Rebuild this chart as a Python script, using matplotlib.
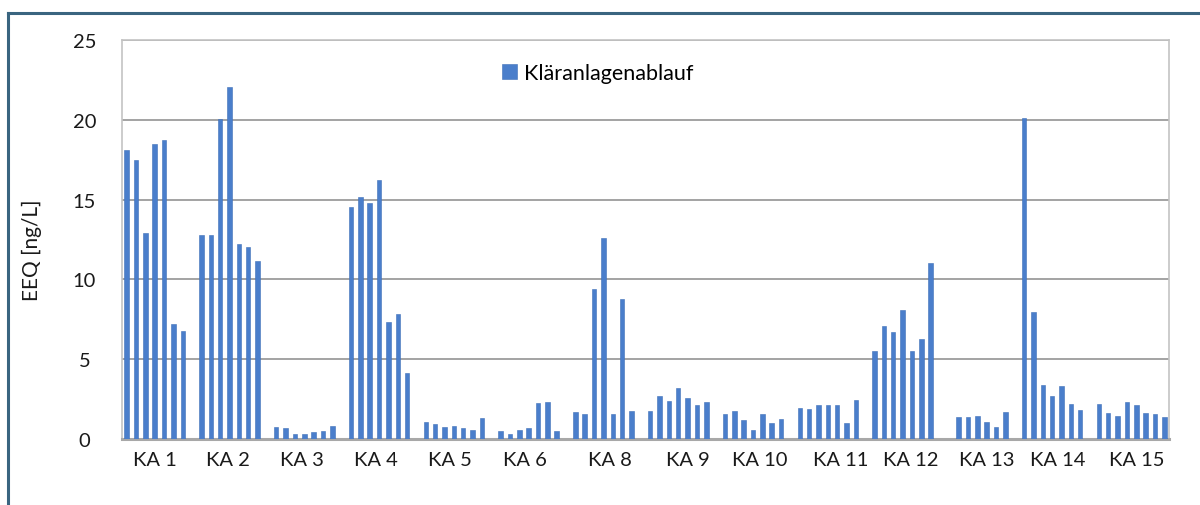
import numpy as np
import matplotlib
matplotlib.use("Agg")
import matplotlib.pyplot as plt
from matplotlib.lines import Line2D

# ---- data ----
groups = ["KA 1", "KA 2", "KA 3", "KA 4", "KA 5", "KA 6", "KA 8",
          "KA 9", "KA 10", "KA 11", "KA 12", "KA 13", "KA 14", "KA 15"]
ka1 = [18.1, 17.5, 12.9, 18.5, 18.75, 7.23, 6.77]
ka2 = [12.77, 12.77, 20.06, 22.06, 12.19, 12.02, 11.14]
ka3 = [0.73, 0.67, 0.31, 0.31, 0.42, 0.52, 0.83]
ka4 = [14.56, 15.17, 14.77, 16.21, 7.33, 7.85, 4.13]
ka5 = [1.08, 0.94, 0.75, 0.79, 0.69, 0.54, 1.33]
ka6 = [0.50, 0.33, 0.56, 0.69, 2.27, 2.31, 0.52]
ka8 = [1.71, 1.58, 9.38, 12.60, 1.56, 8.79, 1.75]
ka9 = [1.75, 2.71, 2.38, 3.19, 2.58, 2.13, 2.29]
ka10 = [1.56, 1.73, 1.21, 0.56, 1.54, 1.00, 1.25]
ka11 = [1.94, 1.88, 2.13, 2.13, 2.13, 1.00, 2.44]
ka12 = [5.52, 7.08, 6.73, 8.08, 5.52, 6.27, 11.04]
ka13 = [np.nan, 1.35, 1.40, 1.46, 1.04, 0.77, 1.67]
ka14 = [20.10, 7.98, 3.38, 2.69, 3.31, 2.21, 1.81]
ka15 = [2.21, 1.63, 1.46, 2.29, 2.10, 1.65, 1.56, 1.40]
series_name = "Kläranlagenablauf"
y_label = "EEQ [ng/L]"
y_ticks = [0, 5, 10, 15, 20, 25]

group_values = [ka1, ka2, ka3, ka4, ka5, ka6, ka8, ka9, ka10, ka11,
                ka12, ka13, ka14, ka15]

# ---- layout ----
slots_per_group = 8
label_offsets = [3.0, 2.8, 2.75, 2.7, 2.55, 2.65, 3.65, 4.0, 3.7, 4.35,
                 3.9, 4.0, 3.55, 4.1]

FONT = ["Lato", "DejaVu Sans"]
plt.rcParams['font.family'] = FONT

fig = plt.figure(figsize=(12.0, 5.06), dpi=100)
ax = fig.add_axes([122/1200, 1-440/506, (1169-122)/1200, (440-41)/506])

xs, ys = [], []
for g, vals in enumerate(group_values):
    for i, v in enumerate(vals):
        xs.append(g*slots_per_group + i)
        ys.append(v)
xs = np.array(xs, dtype=float)
ys = np.array(ys, dtype=float)
ok = ~np.isnan(ys)

bar_color = "#4a7ecb"
ax.bar(xs[ok], ys[ok], width=0.48, color=bar_color, edgecolor="#3f6fb8",
       linewidth=0.4, zorder=3, label=series_name)

n_slots = len(groups)*slots_per_group
ax.set_xlim(-0.5, n_slots-0.5)
ax.set_ylim(0, 25)
ax.set_yticks(y_ticks)
ax.yaxis.grid(True, color="#a3a3a3", linewidth=1.4, zorder=0)
ax.set_axisbelow(True)

ax.set_xticks([g*slots_per_group + o for g, o in enumerate(label_offsets)])
ax.set_xticklabels(groups)
ax.tick_params(axis="both", length=0, labelsize=14.5, colors="#1a1a1a")
ax.tick_params(axis="y", pad=27)
ax.tick_params(axis="x", pad=9)
for t in ax.get_yticklabels():
    t.set_horizontalalignment("center")

for s in ["left", "right", "top"]:
    ax.spines[s].set_color("#c4c4c4")
    ax.spines[s].set_linewidth(1.2)
ax.spines["bottom"].set_color("#a8a8a8")
ax.spines["bottom"].set_linewidth(2.2)

ax.set_ylabel(y_label, fontsize=15, color="#1a1a1a")
ax.yaxis.set_label_coords(-0.0765, 0.475)

leg = ax.legend(loc="upper left", bbox_to_anchor=(0.355, 0.965), frameon=False,
                fontsize=15.5, handlelength=0.7, handleheight=0.7,
                handletextpad=0.3, borderaxespad=0)

# outer frame (left and top edges visible)
border_col = "#3a6580"
fig.add_artist(Line2D([7.5/1200, 7.5/1200], [-0.05, 1-13.5/506],
                      transform=fig.transFigure, color=border_col, linewidth=2.2))
fig.add_artist(Line2D([7.5/1200, 1.05], [1-13.5/506, 1-13.5/506],
                      transform=fig.transFigure, color=border_col, linewidth=2.2))

fig.savefig("out.png", dpi=100)
